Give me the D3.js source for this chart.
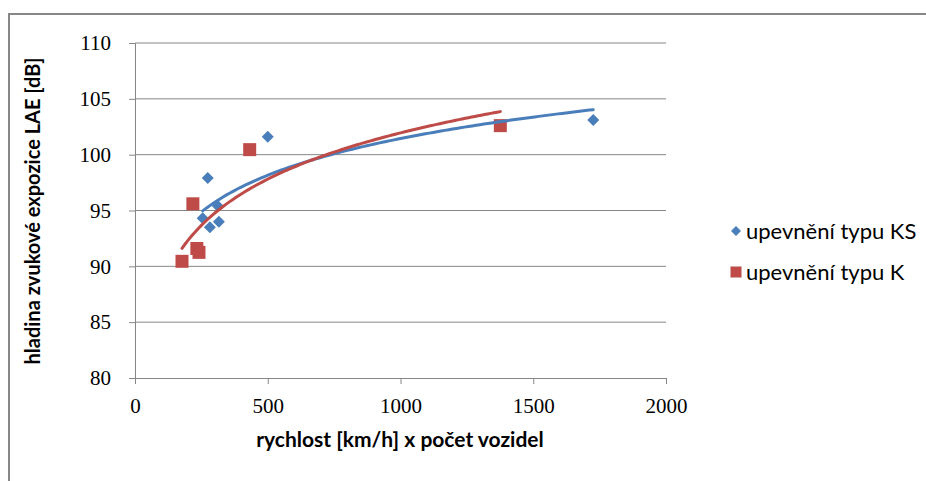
<!DOCTYPE html>
<html>
<head>
<meta charset="utf-8">
<script src="https://cdn.jsdelivr.net/npm/d3@7"></script>
<style>
	body { margin: 0; background: #fff; }
	svg { display: block; }
</style>
</head>
<body>
<svg id="chart" width="926" height="481"></svg>
<script>
// values
const ksX = [255, 274, 282, 312, 316, 500, 1726];
const ksY = [94.3, 97.9, 93.5, 95.4, 94.0, 101.6, 103.1];
const kX = [177, 218, 233, 241, 432, 1376];
const kY = [90.45, 95.6, 91.6, 91.25, 100.45, 102.6];
const xTicks = [0, 500, 1000, 1500, 2000];
const yTicks = [80, 85, 90, 95, 100, 105, 110];
const seriesNames = ["upevnění typu KS", "upevnění typu K"];
const seriesColors = ["#4a7ebb", "#be4b48"];

const svg = d3.select("#chart");

// chart frame
svg.append("rect")
	.attr("x", 9).attr("y", 14)
	.attr("width", 930).attr("height", 480)
	.attr("fill", "none")
	.attr("stroke", "#878787")
	.attr("stroke-width", 2);

const x = d3.scaleLinear().domain([0, 2000]).range([135, 666]);
const y = d3.scaleLinear().domain([80, 110]).range([378, 43]);

// gridlines
svg.append("g")
	.selectAll("line")
	.data(yTicks.slice(1))
	.join("line")
	.attr("x1", x(0)).attr("x2", x(2000))
	.attr("y1", d => y(d)).attr("y2", d => y(d))
	.attr("stroke", "#868686");

// y axis
const yAxis = svg.append("g")
	.attr("transform", `translate(${x(0)},0)`)
	.call(d3.axisLeft(y).tickValues(yTicks).tickSize(6).tickPadding(18).tickFormat(d3.format("d")));
// x axis
const xAxis = svg.append("g")
	.attr("transform", `translate(0,${y(80)})`)
	.call(d3.axisBottom(x).tickValues(xTicks).tickSize(6).tickPadding(14).tickFormat(d3.format("d")));

[yAxis, xAxis].forEach(g => {
	g.attr("font-family", null).attr("font-size", null);
	g.select(".domain").attr("stroke", "#868686");
	g.selectAll(".tick line").attr("stroke", "#868686");
	g.selectAll(".tick text")
		.attr("fill", "#000")
		.style("font-family", "'Liberation Serif', 'DejaVu Serif', serif")
		.style("font-size", "21px");
});

// logarithmic trendline (least squares on ln x)
function logFit(xs, ys) {
	const lx = xs.map(v => Math.log(v));
	const mx = d3.mean(lx), my = d3.mean(ys);
	const a = d3.sum(lx, (v, i) => (v - mx) * (ys[i] - my)) / d3.sum(lx, v => (v - mx) ** 2);
	const b = my - a * mx;
	const [lo, hi] = d3.extent(xs);
	return d3.range(0, 101).map(i => {
		const xv = lo + (hi - lo) * i / 100;
		return [xv, a * Math.log(xv) + b];
	});
}

const line = d3.line().x(d => x(d[0])).y(d => y(d[1]));

// diamond = square turned 45 degrees
const series = [
	{ xs: ksX, ys: ksY, size: 72, rot: 45 },
	{ xs: kX, ys: kY, size: 169, rot: 0 }
];

// points first, trendlines drawn over them
series.forEach((s, i) => {
	svg.append("g")
		.selectAll("path")
		.data(s.xs.map((v, j) => [v, s.ys[j]]))
		.join("path")
		.attr("transform", d => `translate(${x(d[0])},${y(d[1])}) rotate(${s.rot})`)
		.attr("d", d3.symbol(d3.symbolSquare, s.size))
		.attr("fill", seriesColors[i]);
});
series.forEach((s, i) => {
	svg.append("path")
		.datum(logFit(s.xs, s.ys))
		.attr("d", line)
		.attr("fill", "none")
		.attr("stroke", seriesColors[i])
		.attr("stroke-width", 3)
		.attr("stroke-linecap", "round");
});

// legend
const legend = svg.append("g");
seriesNames.forEach((name, i) => {
	const ly = 231 + i * 41;
	legend.append("path")
		.attr("transform", `translate(736,${ly}) rotate(${series[i].rot})`)
		.attr("d", d3.symbol(d3.symbolSquare, i === 0 ? 50 : 121))
		.attr("fill", seriesColors[i]);
	legend.append("text")
		.attr("x", 746).attr("y", ly)
		.attr("dy", "0.35em")
		.style("font-family", "Lato, 'Open Sans', sans-serif")
		.style("font-size", "22px")
		.text(name);
});

// axis titles
svg.append("text")
	.attr("x", 400).attr("y", 447)
	.attr("text-anchor", "middle")
	.style("font-family", "Lato, 'Open Sans', sans-serif")
	.style("font-weight", "bold")
	.style("font-size", "21px")
	.text("rychlost [km/h] x počet vozidel");

svg.append("text")
	.attr("transform", "translate(40,211) rotate(-90)")
	.attr("text-anchor", "middle")
	.style("font-family", "Lato, 'Open Sans', sans-serif")
	.style("font-weight", "bold")
	.style("font-size", "20px")
	.text("hladina zvukové expozice LAE [dB]");
</script>
</body>
</html>
